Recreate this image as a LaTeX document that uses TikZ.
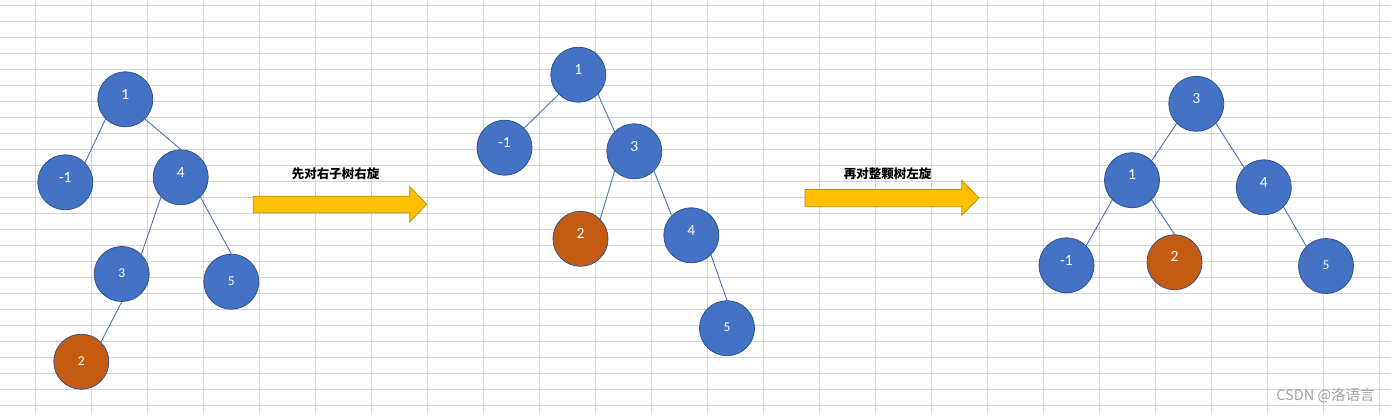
\documentclass[tikz,border=0pt]{standalone}
\usepackage{fontspec}
\setmainfont{Carlito}
\newfontfamily\cjk{Noto Sans CJK SC}
\usepackage{tikz}
\usepackage{xcolor}
\definecolor{cellline}{HTML}{D4D4D4}
\definecolor{nodefill}{HTML}{4472C4}
\definecolor{nodeline}{HTML}{2F528F}
\definecolor{hotfill}{HTML}{C55A11}
\definecolor{arrowfill}{HTML}{FFC000}
\definecolor{arrowline}{HTML}{BC8C00}
\definecolor{markgray}{HTML}{A0A0A0}

\begin{document}
\begin{tikzpicture}[x=1pt,y=-1pt,
  vtx/.style={circle,minimum size=55pt,inner sep=0pt,fill=nodefill,draw=nodeline,
    line width=0.8pt,text=white,font=\fontsize{15.5}{15.5}\selectfont,
    text height=8pt,text depth=8.5pt},
  vtxs/.style={vtx,font=\fontsize{13.5}{13.5}\selectfont,text height=6.7pt,text depth=0pt},
  hot/.style={fill=hotfill},
  edge/.style={nodefill,line width=0.9pt},
  turn/.style={fill=arrowfill,draw=arrowline,line width=0.8pt},
  note/.style={font=\cjk\bfseries\fontsize{12.5}{12.5}\selectfont,inner sep=0pt}]
  \useasboundingbox (0,0) rectangle (1391,412);
  \fill[white] (0,0) rectangle (1391,412);
  \foreach \i in {0,...,24}
    \draw[cellline,line width=1pt] (35.3+56*\i,0) -- (35.3+56*\i,412);
  \foreach \j in {0,...,25}
    \draw[cellline,line width=1pt] (0,5.5+16*\j) -- (1391,5.5+16*\j);

  \node[vtx] (a1) at (125.3,99.3) {1};
  \node[vtx] (am1) at (65.3,182.3) {-1};
  \node[vtx] (a4) at (180.7,177.3) {4};
  \node[vtxs] (a3) at (121.7,274) {3};
  \node[vtxs] (a5) at (231.3,281.7) {5};
  \node[vtxs,hot] (a2) at (81.3,361.7) {2};
  \draw[edge] (a1.south west) -- (am1.north east);
  \draw[edge] (a1.south east) -- (a4.north);
  \draw[edge] (a4.south west) -- (a3.north east);
  \draw[edge] (a4.south east) -- (a5.north);
  \draw[edge] (a3.south) -- (a2.north east);

  \draw[turn] (253.3,196.2) -- (409.7,196.2) -- (409.7,186.5) -- (426.7,204.3)
    -- (409.7,222) -- (409.7,212.7) -- (253.3,212.7) -- cycle;
  \node[note] (t1) at (335.5,174) {先对右子树右旋};

  \node[vtx] (b1) at (578.3,74.7) {1};
  \node[vtx] (bm1) at (504.5,147.7) {-1};
  \node[vtx] (b3) at (634.3,151.3) {3};
  \node[vtx,hot] (b2) at (580.5,238.8) {2};
  \node[vtx] (b4) at (691.3,235.3) {4};
  \node[vtxs] (b5) at (727,328.2) {5};
  \draw[edge] (b1.south west) -- (bm1.north east);
  \draw[edge] (b1.south east) -- (b3.north west);
  \draw[edge] (b3.south west) -- (b2.north east);
  \draw[edge] (b3.south east) -- (b4.north west);
  \draw[edge] (b4.south east) -- (b5.north);

  \draw[turn] (805,189.5) -- (961.7,189.5) -- (961.7,180.3) -- (979,197.9)
    -- (961.7,215.3) -- (961.7,206.7) -- (805,206.7) -- cycle;
  \node[note] (t2) at (887.5,173.5) {再对整颗树左旋};

  \node[vtx] (c3) at (1196.3,103.8) {3};
  \node[vtx] (c1) at (1132,180.2) {1};
  \node[vtx] (c4) at (1263.8,187.3) {4};
  \node[vtx] (cm1) at (1066.5,265.3) {-1};
  \node[vtx,hot] (c2) at (1174.5,262.2) {2};
  \node[vtxs] (c5) at (1326,266) {5};
  \draw[edge] (c3.south west) -- (c1.north east);
  \draw[edge] (c3.south east) -- (c4.north west);
  \draw[edge] (c1.south west) -- (cm1.north east);
  \draw[edge] (c1.south east) -- (c2.north);
  \draw[edge] (c4.south east) -- (c5.north west);

  \node[font=\cjk\fontsize{14.5}{14.5}\selectfont,text=markgray,inner sep=0pt] (mark)
    at (1325.5,396) {CSDN @洛语言};
\end{tikzpicture}
\end{document}
